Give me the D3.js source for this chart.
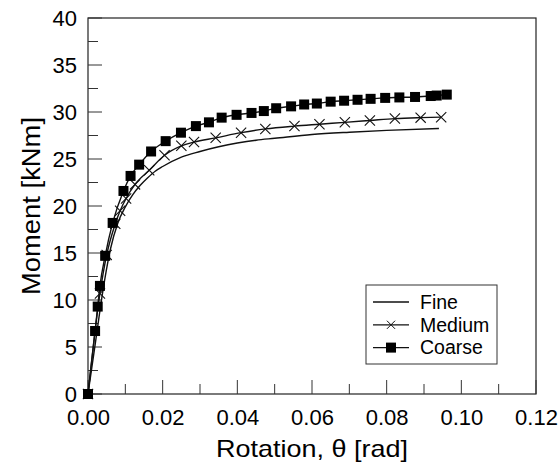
<!DOCTYPE html>
<html>
<head>
<meta charset="utf-8">
<script src="https://cdn.jsdelivr.net/npm/d3@7"></script>
<style>
  body { margin: 0; background: #fff; }
  text { font-family: "Liberation Sans", Arial, sans-serif; fill: #000; }
</style>
</head>
<body>
<div id="chart"></div>
<script>
// fine mesh - plain line
var fineRot = [0, 0.002, 0.004, 0.006, 0.008, 0.010, 0.012, 0.014, 0.016, 0.018, 0.020, 0.025, 0.030, 0.035, 0.040, 0.045, 0.050, 0.060, 0.070, 0.080, 0.094];
var fineMom = [0, 5.5, 11.0, 15.4, 18.2, 19.9, 21.2, 22.2, 23.0, 23.7, 24.2, 25.2, 25.8, 26.3, 26.7, 27.0, 27.2, 27.6, 27.85, 28.05, 28.25];

// medium mesh - x markers
var medRot = [0, 0.0032, 0.005, 0.0073, 0.0086, 0.0102, 0.0126, 0.0164, 0.0205, 0.0250, 0.0284, 0.0342, 0.0410, 0.0475, 0.0553, 0.0620, 0.0688, 0.0755, 0.0822, 0.0891, 0.0946];
var medMom = [0, 10.7, 14.8, 18.1, 19.5, 20.8, 22.3, 23.8, 25.4, 26.4, 26.8, 27.25, 27.8, 28.2, 28.5, 28.7, 28.9, 29.1, 29.3, 29.4, 29.45];

// coarse mesh - filled squares
var coarseRot = [0, 0.0019, 0.0026, 0.0032, 0.0046, 0.0066, 0.0095, 0.0114, 0.0137, 0.0169, 0.0208, 0.0249, 0.0289, 0.0324, 0.0358, 0.0398, 0.0438, 0.0471, 0.0504, 0.0544, 0.0579, 0.0613, 0.0650, 0.0686, 0.0722, 0.0757, 0.0796, 0.0834, 0.0876, 0.0918, 0.0934, 0.0961];
var coarseMom = [0, 6.7, 9.3, 11.5, 14.7, 18.2, 21.6, 23.2, 24.4, 25.8, 26.9, 27.8, 28.5, 28.9, 29.4, 29.7, 29.9, 30.1, 30.4, 30.6, 30.8, 30.9, 31.1, 31.2, 31.3, 31.4, 31.5, 31.55, 31.6, 31.7, 31.75, 31.85];

var xTicks = [0, 0.02, 0.04, 0.06, 0.08, 0.10, 0.12];
var yTicks = [0, 5, 10, 15, 20, 25, 30, 35, 40];
var legendNames = ["Fine", "Medium", "Coarse"];

var width = 560, height = 467;
// note: "top" is taken by window.top, so use plot* names
var plotL = 88, plotR = 536, plotT = 18, plotB = 394;

var svg = d3.select("#chart").append("svg")
  .attr("width", width)
  .attr("height", height);

var x = d3.scaleLinear().domain([0, 0.12]).range([plotL, plotR]);
var y = d3.scaleLinear().domain([0, 40]).range([plotB, plotT]);

function pts(xs, ys) {
  return xs.map(function(d, i) { return [d, ys[i]]; });
}
var fine = pts(fineRot, fineMom);
var medium = pts(medRot, medMom);
var coarse = pts(coarseRot, coarseMom);

// frame
svg.append("rect")
  .attr("x", plotL).attr("y", plotT)
  .attr("width", plotR - plotL).attr("height", plotB - plotT)
  .attr("fill", "none").attr("stroke", "#222").attr("stroke-width", 1.2);

// axes for the labels only, tick marks drawn by hand (inward)
var xAxis = d3.axisBottom(x).tickValues(xTicks).tickFormat(d3.format(".2f")).tickSize(0);
var gx = svg.append("g").attr("transform", "translate(0," + plotB + ")").call(xAxis);
gx.select(".domain").remove();
gx.selectAll("text").attr("font-size", "22px").attr("y", 31).attr("dy", 0);

var yAxis = d3.axisLeft(y).tickValues(yTicks).tickSize(0).tickPadding(11);
var gy = svg.append("g").attr("transform", "translate(" + plotL + ",0)").call(yAxis);
gy.select(".domain").remove();
gy.selectAll("text").attr("font-size", "22px");

var xMinor = d3.range(0, 0.1201, 0.01);
svg.append("g").selectAll("line")
  .data(xMinor)
  .enter().append("line")
  .attr("x1", function(d) { return x(d); })
  .attr("x2", function(d) { return x(d); })
  .attr("y1", plotB)
  .attr("y2", function(d, i) { return i % 2 == 0 ? plotB - 14 : plotB - 10; })
  .attr("stroke", "#333").attr("stroke-width", 1);

var yMinor = d3.range(0, 40.01, 2.5);
svg.append("g").selectAll("line")
  .data(yMinor)
  .enter().append("line")
  .attr("x1", plotL)
  .attr("x2", function(d, i) { return i % 2 == 0 ? plotL + 14 : plotL + 10; })
  .attr("y1", function(d) { return y(d); })
  .attr("y2", function(d) { return y(d); })
  .attr("stroke", "#333").attr("stroke-width", 1);

// axis titles (the original font runs wide, so stretch to its length)
svg.append("text")
  .attr("x", (plotL + plotR) / 2)
  .attr("y", 457)
  .attr("text-anchor", "middle")
  .attr("font-size", "24px")
  .attr("textLength", 192)
  .attr("lengthAdjust", "spacingAndGlyphs")
  .text("Rotation, \u03b8 [rad]");

svg.append("text")
  .attr("transform", "translate(40," + ((plotT + plotB) / 2) + ") rotate(-90)")
  .attr("text-anchor", "middle")
  .attr("font-size", "25px")
  .attr("textLength", 178)
  .attr("lengthAdjust", "spacingAndGlyphs")
  .text("Moment [kNm]");

var line = d3.line()
  .x(function(d) { return x(d[0]); })
  .y(function(d) { return y(d[1]); })
  .curve(d3.curveMonotoneX);

svg.append("path").datum(fine)
  .attr("d", line).attr("fill", "none").attr("stroke", "#111").attr("stroke-width", 1.4);
svg.append("path").datum(medium)
  .attr("d", line).attr("fill", "none").attr("stroke", "#111").attr("stroke-width", 1.4);
svg.append("path").datum(coarse)
  .attr("d", line).attr("fill", "none").attr("stroke", "#111").attr("stroke-width", 1.4);

// x markers
var cross = d3.symbol().type(d3.symbolX).size(70);
svg.append("g").selectAll("path")
  .data(medium)
  .enter().append("path")
  .attr("d", cross)
  .attr("transform", function(d) { return "translate(" + x(d[0]) + "," + y(d[1]) + ")"; })
  .attr("fill", "none").attr("stroke", "#111").attr("stroke-width", 1.1);

// squares
var sq = 10;
svg.append("g").selectAll("rect")
  .data(coarse)
  .enter().append("rect")
  .attr("x", function(d) { return x(d[0]) - sq / 2; })
  .attr("y", function(d) { return y(d[1]) - sq / 2; })
  .attr("width", sq).attr("height", sq)
  .attr("fill", "#000");

// legend
var lg = svg.append("g");
lg.append("rect")
  .attr("x", 366).attr("y", 285)
  .attr("width", 131).attr("height", 79)
  .attr("fill", "#fff").attr("stroke", "#333").attr("stroke-width", 1);

var rows = lg.selectAll("g.row")
  .data(legendNames)
  .enter().append("g")
  .attr("class", "row")
  .attr("transform", function(d, i) { return "translate(0," + (302 + i * 22.8) + ")"; });

rows.append("line")
  .attr("x1", 373).attr("x2", 409).attr("y1", 0).attr("y2", 0)
  .attr("stroke", "#111").attr("stroke-width", 1.3);

rows.filter(function(d) { return d == "Medium"; }).append("path")
  .attr("d", d3.symbol().type(d3.symbolX).size(45))
  .attr("transform", "translate(391,0)")
  .attr("fill", "none").attr("stroke", "#111").attr("stroke-width", 1);

rows.filter(function(d) { return d == "Coarse"; }).append("rect")
  .attr("x", 386).attr("y", -5).attr("width", 10).attr("height", 10)
  .attr("fill", "#000");

rows.append("text")
  .attr("x", 420)
  .attr("y", 0)
  .attr("dy", "0.35em")
  .attr("font-size", "19.5px")
  .text(function(d) { return d; });
</script>
</body>
</html>
